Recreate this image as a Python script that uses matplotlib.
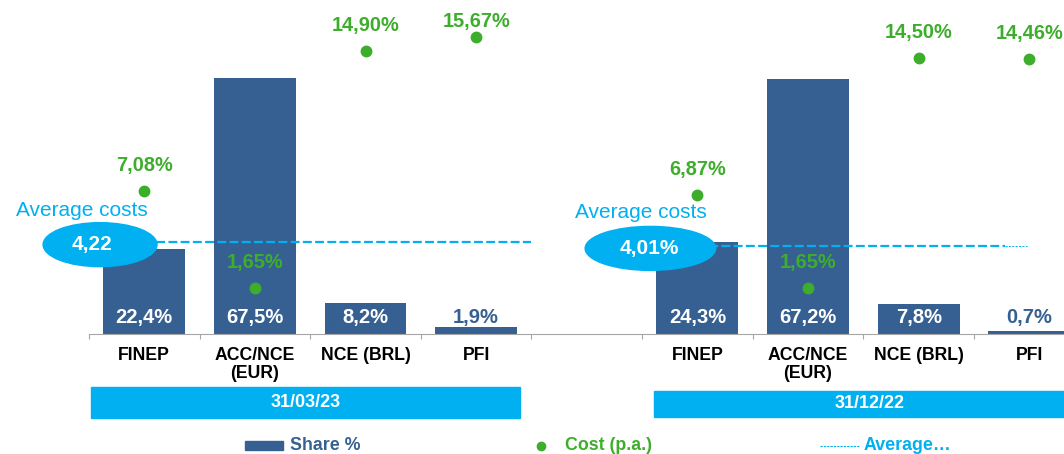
import matplotlib
matplotlib.use("Agg")
import matplotlib.pyplot as plt
import matplotlib.transforms as mtransforms
from matplotlib.patches import Ellipse, Rectangle
from matplotlib.lines import Line2D

plt.rcParams['font.family'] = ['Liberation Sans', 'DejaVu Sans']
plt.rcParams['font.weight'] = 'bold'

# Datos
categorias = ['FINEP', 'ACC/NCE\n(EUR)', 'NCE (BRL)', 'PFI']
periodos = ['31/03/23', '31/12/22']
share_mar23 = [22.4, 67.5, 8.2, 1.9]
share_dic22 = [24.3, 67.2, 7.8, 0.7]
cost_mar23 = [7.08, 1.65, 14.90, 15.67]
cost_dic22 = [6.87, 1.65, 14.50, 14.46]
avg_cost = [4.22, 4.01]
avg_labels = ['4,22', '4,01%']

AZUL = '#376092'
VERDE = '#3DAE2B'
CELESTE = '#00B0F0'

def coma(v, d):
    return f"{v:.{d}f}".replace('.', ',') + '%'

W, H = 1064, 454
PX_COST = 17.9      # pixeles por punto de costo
Y0_COST = 317.5     # pixel del cero del eje de costo
fig = plt.figure(figsize=(W / 100, H / 100), dpi=100)
ax = fig.add_axes([89 / W, (H - 334) / H, 995.6 / W, 334 / H])
ax2 = ax.twinx()

# posiciones: 4 categorias, hueco, 4 categorias
x_mar = [0, 1, 2, 3]
x_dic = [5, 6, 7, 8]

ax.bar(x_mar, share_mar23, width=0.74, color=AZUL, zorder=2)
ax.bar(x_dic, share_dic22, width=0.74, color=AZUL, zorder=2)
ax.set_xlim(-0.5, 8.5)
ax.set_ylim(0, 334 / 3.793)
ax2.set_ylim(-(334 - Y0_COST) / PX_COST, Y0_COST / PX_COST)

for xs, vals in [(x_mar, share_mar23), (x_dic, share_dic22)]:
    for x, v in zip(xs, vals):
        col = 'white' if v > 5 else AZUL
        ax.annotate(coma(v, 1), (x, 0), xytext=(0, 12.2), textcoords='offset points',
                    ha='center', va='center', fontsize=14.5, color=col, zorder=5)

# costos
for xs, vals in [(x_mar, cost_mar23), (x_dic, cost_dic22)]:
    ax2.plot(xs, vals, 'o', color=VERDE, markersize=7.5, linestyle='none', zorder=3, clip_on=False)
    for x, v in zip(xs, vals):
        # la etiqueta no sube por encima del borde del grafico
        dot_y = Y0_COST - v * PX_COST
        off = min(25, dot_y - 22) * 0.72
        ax2.annotate(coma(v, 2), (x, v), xytext=(0, off), textcoords='offset points',
                     ha='center', va='center', fontsize=14.4, color=VERDE, zorder=5,
                     annotation_clip=False)

# lineas de promedio
ax2.plot([0, 3.5], [avg_cost[0]] * 2, color=CELESTE, lw=1.6, dashes=(4, 1.5), zorder=3)
ax2.plot([5, 7.78], [avg_cost[1]] * 2, color=CELESTE, lw=1.6, dashes=(4, 1.5), zorder=3)
ax2.plot([7.78, 7.98], [avg_cost[1]] * 2, color=CELESTE, lw=0.7, dashes=(2, 1.5), zorder=3)

# elipses con el promedio
elipses = [(-0.40, 1.03, -0.47), (4.575, 1.18, 4.565)]
for (cx, ew, tx), v, lab in zip(elipses, avg_cost, avg_labels):
    ax2.add_patch(Ellipse((cx, v - 0.15), ew, 44 / PX_COST, color=CELESTE, zorder=6, clip_on=False))
    ax2.text(tx, v - 0.15, lab, ha='center', va='center', color='white', fontsize=15,
             zorder=7, clip_on=False)
ax2.text(-0.565, 6.0, 'Average costs', ha='center', va='center', color=CELESTE,
         fontsize=15, fontweight='normal', zorder=7, clip_on=False)
ax2.text(4.485, 5.84, 'Average costs', ha='center', va='center', color=CELESTE,
         fontsize=15, fontweight='normal', zorder=7, clip_on=False)

# ejes
for s in ['top', 'right', 'left']:
    ax.spines[s].set_visible(False)
    ax2.spines[s].set_visible(False)
ax2.spines['bottom'].set_visible(False)
ax.spines['bottom'].set_color('#A6A6A6')
ax.set_yticks([])
ax2.set_yticks([])
ax.set_xticks([i - 0.5 for i in range(10)])
ax.set_xticklabels([])
ax.tick_params(axis='x', length=3.6, color='#A6A6A6', direction='out')

bt = mtransforms.blended_transform_factory(ax.transData, fig.transFigure)
for xs in [x_mar, x_dic]:
    for x, c in zip(xs, categorias):
        fig.text(x, (H - 347) / H, c, transform=bt, ha='center', va='top',
                 fontsize=12.7, linespacing=1.1)

# bandas de fecha
bandas = [(-0.479, 3.40, 387, 418), (4.61, 8.5, 391, 417)]
for (x0, x1, y0, y1), p in zip(bandas, periodos):
    fig.patches.append(Rectangle((x0, (H - y1) / H), x1 - x0, (y1 - y0) / H,
                                 transform=bt, color=CELESTE, zorder=1))
    fig.text((x0 + x1) / 2, (H - (y0 + y1) / 2) / H, p, transform=bt,
             ha='center', va='center', color='white', fontsize=13)

# leyenda
ly = (H - 446) / H
fig.patches.append(Rectangle((245 / W, (H - 450) / H), 38 / W, 9 / H,
                             transform=fig.transFigure, color=AZUL))
fig.text(290 / W, ly, 'Share %', color=AZUL, fontsize=12.8, va='center')
fig.lines.append(Line2D([541 / W], [ly], marker='o', color=VERDE, markersize=6,
                        transform=fig.transFigure))
fig.text(565 / W, ly, 'Cost (p.a.)', color=VERDE, fontsize=12.8, va='center')
fig.lines.append(Line2D([820 / W, 860 / W], [ly, ly], color=CELESTE, lw=0.8,
                        dashes=(2, 1), transform=fig.transFigure))
fig.text(864 / W, ly, 'Average…', color=CELESTE, fontsize=12.8, va='center')

fig.savefig('out.png', dpi=100)
